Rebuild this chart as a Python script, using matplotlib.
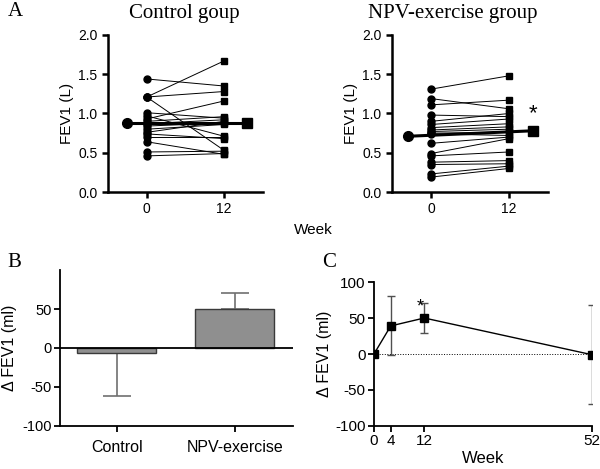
import matplotlib.pyplot as plt

plt.rcParams['font.family'] = ['Liberation Sans', 'DejaVu Sans']
plt.rcParams['axes.unicode_minus'] = False

# panel A: individual FEV1 (L) at week 0 and week 12
weeks_a = [0, 12]
control_pre = [1.44, 1.21, 1.21, 1.21, 1.01, 0.97, 0.93, 0.90, 0.87, 0.84, 0.80,
               0.76, 0.74, 0.70, 0.64, 0.51, 0.46]
control_post = [1.35, 1.67, 1.28, 0.53, 0.94, 0.71, 1.16, 0.96, 0.92, 0.88, 0.86,
                0.90, 0.68, 0.70, 0.48, 0.52, 0.49]
npv_pre = [1.31, 1.19, 1.11, 0.98, 0.90, 0.86, 0.82, 0.79, 0.77, 0.75, 0.74,
           0.62, 0.49, 0.46, 0.38, 0.35, 0.23, 0.19]
npv_post = [1.48, 1.06, 1.17, 0.96, 1.00, 0.93, 0.87, 0.83, 0.80, 0.76, 0.72,
            0.70, 0.68, 0.51, 0.40, 0.36, 0.33, 0.30]
control_mean = [0.88, 0.88]
npv_mean = [0.71, 0.78]

# panel B: change in FEV1 (ml)
groups = ['Control', 'NPV-exercise']
bar_vals = [-7, 50]
bar_err = [55, 21]

# panel C: change over time
c_weeks = [0, 4, 12, 52]
c_vals = [0, 39, 50, -1]
c_err_lo = [0, 40, 21, 69]
c_err_hi = [0, 41, 21, 69]

fig = plt.figure(figsize=(6, 4.69), dpi=100)

serif = ['Liberation Serif', 'DejaVu Serif']


def style_axes(ax, lw=1.6):
    ax.spines['top'].set_visible(False)
    ax.spines['right'].set_visible(False)
    ax.spines['left'].set_linewidth(lw)
    ax.spines['bottom'].set_linewidth(lw)
    ax.tick_params(direction='out', length=4, width=lw, colors='black')


def pair_panel(rect, pre, post, mean, title, title_x, mean_x, star=False):
    ax = fig.add_axes(rect)
    for a, b in zip(pre, post):
        ax.plot(weeks_a, [a, b], color='black', lw=0.7, zorder=2)
        ax.plot(weeks_a[0], a, 'o', color='black', ms=5, zorder=3)
        ax.plot(weeks_a[1], b, 's', color='black', ms=5, zorder=3)
    ax.plot(mean_x, mean, color='black', lw=2.2, zorder=4)
    ax.plot(mean_x[0], mean[0], 'o', color='black', ms=7, zorder=5)
    ax.plot(mean_x[1], mean[1], 's', color='black', ms=7, zorder=5)
    if star:
        ax.text(mean_x[1], mean[1] + 0.08, '*', fontsize=16, ha='center', va='bottom')
    ax.set_xlim(-6, 18)
    ax.set_ylim(0, 2.0)
    ax.set_xticks(weeks_a)
    ax.set_yticks([0, 0.5, 1.0, 1.5, 2.0])
    ax.set_yticklabels(['0.0', '0.5', '1.0', '1.5', '2.0'])
    style_axes(ax, 1.8)
    ax.tick_params(labelsize=10)
    ax.set_ylabel('FEV1 (L)', fontsize=11, labelpad=3)
    ax.set_title(title, fontsize=15, family=serif, pad=12, x=title_x)
    return ax


pair_panel([0.18, 0.5906, 0.258, 0.3348], control_pre, control_post,
           control_mean, 'Control goup', 0.49, [-3.0, 15.5])
pair_panel([0.6533, 0.5906, 0.26, 0.3348], npv_pre, npv_post,
           npv_mean, 'NPV-exercise group', 0.39, [-3.5, 15.7], star=True)
fig.text(0.522, 0.51, 'Week', fontsize=11, ha='center', va='center')

# panel B
axb = fig.add_axes([0.1, 0.0917, 0.388, 0.3326])
xb = range(len(groups))
axb.bar(xb, bar_vals, width=0.67, color='#8f8f8f', edgecolor='#3a3a3a',
        lw=1, zorder=2)
axb.errorbar(xb, bar_vals, yerr=[[bar_err[0], 0], [0, bar_err[1]]],
             fmt='none', ecolor='#707070', elinewidth=1.2, capsize=10,
             capthick=1.2, zorder=1)
axb.axhline(0, color='black', lw=1.3, zorder=3)
axb.set_xlim(-0.48, 1.49)
axb.set_ylim(-100, 100)
axb.set_xticks(list(xb))
axb.set_xticklabels(groups)
axb.set_yticks([-100, -50, 0, 50])
style_axes(axb, 1.3)
axb.tick_params(labelsize=10.5, pad=2)
axb.tick_params(axis='x', labelsize=11.5, pad=6)
axb.set_ylabel('\u0394 FEV1 (ml)', fontsize=11.5, labelpad=4)

# panel C
axc = fig.add_axes([0.6233, 0.0917, 0.3633, 0.307])
axc.axhline(0, color='black', lw=0.7, ls=':', zorder=1)
axc.errorbar(c_weeks, c_vals, yerr=[c_err_lo, c_err_hi], fmt='s-',
             color='black', ecolor='#505050', ms=6, lw=1, elinewidth=1,
             capsize=3, capthick=1, zorder=3)
axc.text(11, 54, '*', fontsize=13, ha='center', va='bottom')
axc.set_xlim(0, 52)
axc.set_ylim(-100, 100)
axc.set_xticks(c_weeks)
axc.set_yticks([-100, -50, 0, 50, 100])
style_axes(axc, 1.3)
axc.tick_params(labelsize=11, pad=2)
axc.set_ylabel('\u0394 FEV1 (ml)', fontsize=11.5, labelpad=2)
axc.set_xlabel('Week', fontsize=12, labelpad=2)

for lab, x, y in [('A', 0.013, 0.975), ('B', 0.013, 0.441), ('C', 0.537, 0.441)]:
    fig.text(x, y, lab, fontsize=15, family=serif, ha='left', va='center')

fig.savefig('out.png', dpi=100)
